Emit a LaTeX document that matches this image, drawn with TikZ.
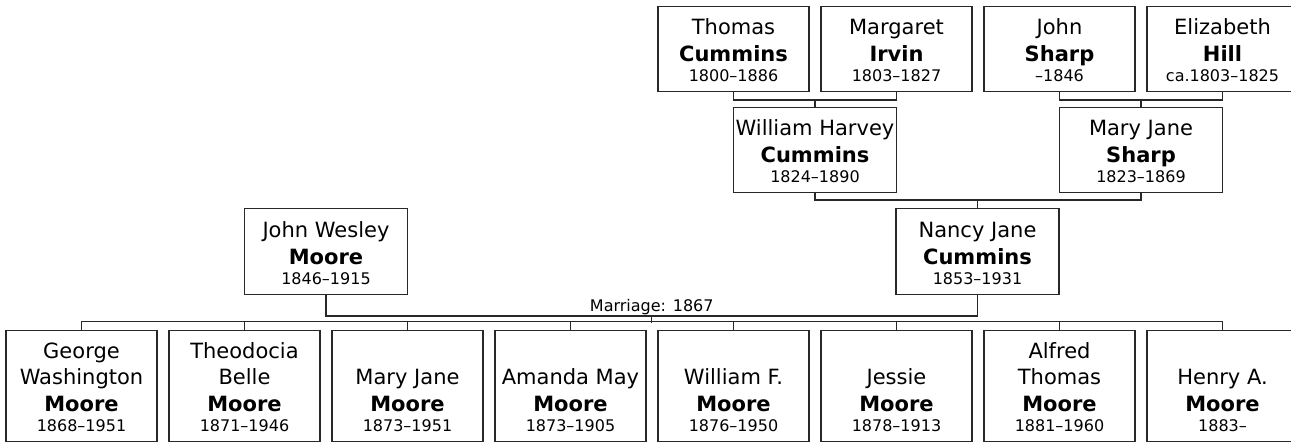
\documentclass[tikz,border=0pt]{standalone}
\usepackage{fontspec}
\setmainfont{DejaVu Sans}
\usetikzlibrary{calc}
\definecolor{linec}{RGB}{40,40,40}
\tikzset{
  pbox/.style={draw=linec, line width=1.3pt, inner sep=0pt, fill=white},
  gtext/.style={anchor=base, inner sep=0pt, font=\fontsize{21}{25}\selectfont},
  stext/.style={anchor=base, inner sep=0pt, font=\fontsize{21}{25}\selectfont\bfseries},
  dtext/.style={anchor=base, inner sep=0pt, font=\fontsize{16}{19}\selectfont},
  mtext/.style={anchor=base, inner sep=0pt, font=\fontsize{16}{19}\selectfont},
  conn/.style={draw=linec, line width=1.2pt},
}
% #1 id, #2 centre x, #3 bottom y, #4 width, #5 height,
% #6 given-name line just above surname, #7 given-name line above that,
% #8 surname, #9 dates
\newcommand\psn[9]{%
  \node[pbox, minimum width=#4, minimum height=#5, anchor=south] (#1) at (#2,#3) {};
  \node[gtext] (#1-g1) at ($(#1.south)+(0,57)$) {#6};
  \node[gtext] (#1-g2) at ($(#1.south)+(0,83.7)$) {#7};
  \node[stext] (#1-s) at ($(#1.south)+(0,30.4)$) {#8};
  \node[dtext] (#1-d) at ($(#1.south)+(0,10.4)$) {#9};
}
\begin{document}
\begin{tikzpicture}[x=1pt,y=1pt]
\clip (0,0) rectangle (1291,443);
\fill[white] (0,0) rectangle (1291,443);

% row 1: great-grandparents
\psn{thomas}{733.5}{351}{151}{85}{Thomas}{}{Cummins}{1800–1886}
\psn{margaret}{896.5}{351}{151}{85}{Margaret}{}{Irvin}{1803–1827}
\psn{johns}{1059.5}{351}{151}{85}{John}{}{Sharp}{–1846}
\psn{eliz}{1222.5}{351}{151}{85}{Elizabeth}{}{Hill}{ca.1803–1825}

% row 2: grandparents
\psn{wh}{815}{250}{163}{85}{William Harvey}{}{Cummins}{1824–1890}
\psn{mjs}{1141}{250}{163}{85}{Mary Jane}{}{Sharp}{1823–1869}

% row 3: parents
\psn{jw}{326}{148}{163}{86}{John Wesley}{}{Moore}{1846–1915}
\psn{nancy}{977.5}{148}{163}{86}{Nancy Jane}{}{Cummins}{1853–1931}

% row 4: children
\psn{george}{81.5}{1}{151}{111}{Washington}{George}{Moore}{1868–1951}
\psn{theo}{244.5}{1}{151}{111}{Belle}{Theodocia}{Moore}{1871–1946}
\psn{maryj}{407.5}{1}{151}{111}{Mary Jane}{}{Moore}{1873–1951}
\psn{amanda}{570.5}{1}{151}{111}{Amanda May}{}{Moore}{1873–1905}
\psn{willf}{733.5}{1}{151}{111}{William F.}{}{Moore}{1876–1950}
\psn{jessie}{896.5}{1}{151}{111}{Jessie}{}{Moore}{1878–1913}
\psn{alfred}{1059.5}{1}{151}{111}{Thomas}{Alfred}{Moore}{1881–1960}
\psn{henry}{1222.5}{1}{151}{111}{Henry A.}{}{Moore}{1883–}

% couple connectors
\draw[conn] (thomas.south) -- ++(0,-8) -| (margaret.south);
\draw[conn] (wh.north) -- ++(0,8);
\draw[conn] (johns.south) -- ++(0,-8) -| (eliz.south);
\draw[conn] (mjs.north) -- ++(0,8);
\draw[conn] (wh.south) -- ++(0,-7) -| (mjs.south);
\draw[conn] (nancy.north) -- ++(0,9);

% marriage
\draw[conn] (jw.south) -- ++(0,-21) coordinate (mjw) -| (nancy.south);
\coordinate (mar) at ($(jw.south)!0.5!(nancy.south)+(0,-21)$);
\node[mtext] (marlabel) at ($(mar)+(0,4.5)$) {Marriage: 1867};
\draw[conn] (mar) -- ++(0,-7);

% children bus
\draw[conn] (george.north) -- ++(0,8) -| (henry.north);
\foreach \c in {theo,maryj,amanda,willf,jessie,alfred}
  \draw[conn] (\c.north) -- ++(0,8);
\end{tikzpicture}
\end{document}
